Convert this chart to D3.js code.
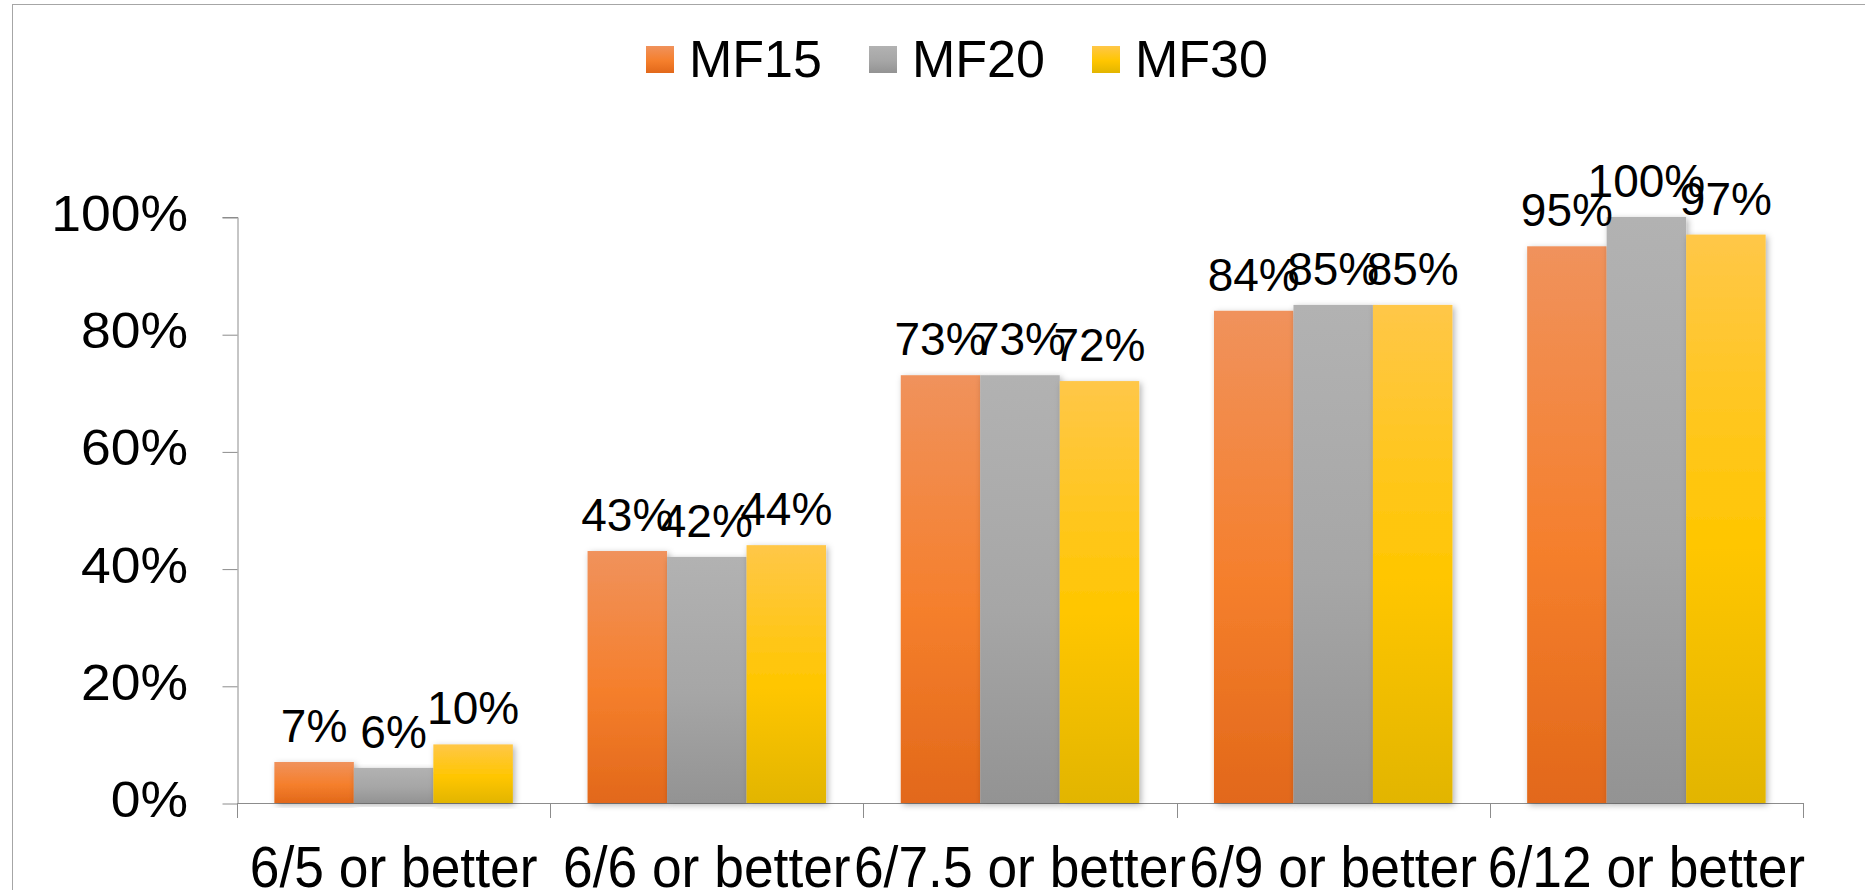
<!DOCTYPE html>
<html>
<head>
<meta charset="utf-8">
<script src="https://cdn.jsdelivr.net/npm/d3@7"></script>
<style>
  html, body { margin: 0; padding: 0; background: #fff; overflow: hidden; }
  svg { display: block; font-family: "Liberation Sans", Arial, sans-serif; }
</style>
</head>
<body>
<svg id="chart" width="1865" height="890"></svg>
<script>
// Visual acuity categories and percentage of eyes reaching each level
const categories = ["6/5 or better", "6/6 or better", "6/7.5 or better", "6/9 or better", "6/12 or better"];
const seriesNames = ["MF15", "MF20", "MF30"];
const mf15 = [7, 43, 73, 84, 95];
const mf20 = [6, 42, 73, 85, 100];
const mf30 = [10, 44, 72, 85, 97];
const yTicks = [0, 20, 40, 60, 80, 100];

const seriesValues = [mf15, mf20, mf30];

// Three-stop vertical gradients per series (light top, saturated middle, darker base)
const gradients = {
  MF15: ["#F0925C", "#F57F2C", "#E2681A"],
  MF20: ["#B2B2B2", "#A6A6A6", "#939393"],
  MF30: ["#FFC748", "#FFC600", "#E2B500"]
};

const svg = d3.select("#chart");
const W = 1865, H = 890;

svg.append("rect").attr("width", W).attr("height", H).attr("fill", "#fff");

const defs = svg.append("defs");
seriesNames.forEach(name => {
  const g = defs.append("linearGradient")
    .attr("id", "grad-" + name)
    .attr("x1", 0).attr("y1", 0).attr("x2", 0).attr("y2", 1);
  const c = gradients[name];
  g.append("stop").attr("offset", "0%").attr("stop-color", c[0]);
  g.append("stop").attr("offset", "55%").attr("stop-color", c[1]);
  g.append("stop").attr("offset", "100%").attr("stop-color", c[2]);
});
const shadow = defs.append("filter").attr("id", "barShadow")
  .attr("x", "-20%").attr("y", "-10%").attr("width", "140%").attr("height", "120%");
shadow.append("feDropShadow")
  .attr("dx", 2).attr("dy", 2).attr("stdDeviation", 3)
  .attr("flood-color", "#000").attr("flood-opacity", 0.3);

// Chart area frame
svg.append("rect")
  .attr("x", 12.5).attr("y", 4.5)
  .attr("width", 2000).attr("height", 1000)
  .attr("fill", "none").attr("stroke", "#A6A6A6").attr("stroke-width", 1);

const plot = { left: 237, right: 1803, top: 217, bottom: 803 };

const x0 = d3.scaleBand().domain(categories).range([plot.left, plot.right]).padding(0);
const x1 = d3.scaleBand().domain(seriesNames).range([0, x0.bandwidth()])
  .paddingInner(0).paddingOuter(0.47);
const y = d3.scaleLinear().domain([0, 100]).range([plot.bottom, plot.top]);

const axisColor = "#8C8C8C";

// Y axis
const yAxis = svg.append("g").attr("transform", `translate(${plot.left + 0.5},0)`)
  .call(d3.axisLeft(y).tickValues(yTicks).tickSize(15).tickFormat(""));
yAxis.select(".domain").attr("stroke", axisColor).attr("d", `M-15,${y(100) + 0.5}H0.5V${y(0) + 0.5}`);
yAxis.selectAll(".tick line").attr("stroke", axisColor).attr("transform", "translate(0,0.5)");

svg.append("g").selectAll("text.ylab")
  .data(yTicks).join("text")
  .attr("class", "ylab")
  .attr("transform", d => `translate(188,${y(d) + 14}) scale(1.07,1)`)
  .attr("text-anchor", "end")
  .attr("font-size", 50)
  .attr("fill", "#000")
  .text(d => d + "%");

// X axis with boundary ticks between categories
const boundaries = categories.map(c => x0(c)).concat([plot.right]);
const xAxisG = svg.append("g");
xAxisG.append("line")
  .attr("x1", plot.left).attr("x2", plot.right + 0.5)
  .attr("y1", plot.bottom + 0.5).attr("y2", plot.bottom + 0.5)
  .attr("stroke", axisColor);
xAxisG.selectAll("line.btick").data(boundaries).join("line")
  .attr("class", "btick")
  .attr("x1", d => Math.round(d) + 0.5).attr("x2", d => Math.round(d) + 0.5)
  .attr("y1", plot.bottom).attr("y2", plot.bottom + 15)
  .attr("stroke", axisColor);

svg.append("g").selectAll("text.xlab")
  .data(categories).join("text")
  .attr("class", "xlab")
  .attr("transform", d => `translate(${x0(d) + x0.bandwidth() / 2},887) scale(0.92,1)`)
  .attr("text-anchor", "middle")
  .attr("font-size", 58)
  .attr("fill", "#000")
  .text(d => d);

// Bars
const groups = svg.append("g").selectAll("g.cat")
  .data(categories).join("g")
  .attr("class", "cat")
  .attr("transform", d => `translate(${x0(d)},0)`);

const barData = (c, i) => seriesNames.map((s, k) => ({ series: s, value: seriesValues[k][i] }));

groups.each(function (c, i) {
  const g = d3.select(this);
  const data = barData(c, i);
  g.selectAll("rect.bar").data(data).join("rect")
    .attr("class", "bar")
    .attr("x", d => x1(d.series))
    .attr("y", d => y(d.value))
    .attr("width", x1.bandwidth())
    .attr("height", d => y(0) - y(d.value))
    .attr("fill", d => `url(#grad-${d.series})`)
    .attr("filter", "url(#barShadow)");
});

// Value labels above bars
groups.each(function (c, i) {
  const g = d3.select(this);
  const data = barData(c, i);
  g.selectAll("text.val").data(data).join("text")
    .attr("class", "val")
    .attr("x", d => x1(d.series) + x1.bandwidth() / 2)
    .attr("y", d => y(d.value) - 20)
    .attr("text-anchor", "middle")
    .attr("font-size", 46)
    .attr("fill", "#000")
    .text(d => d.value + "%");
});

// Legend
const legendItems = [
  { name: "MF15", x: 646 },
  { name: "MF20", x: 869 },
  { name: "MF30", x: 1092 }
];
const legend = svg.append("g").selectAll("g.leg").data(legendItems).join("g")
  .attr("class", "leg")
  .attr("transform", d => `translate(${d.x},0)`);
legend.append("rect")
  .attr("x", 0).attr("y", 46).attr("width", 28).attr("height", 27)
  .attr("fill", d => `url(#grad-${d.name})`);
legend.append("text")
  .attr("x", 43).attr("y", 77)
  .attr("font-size", 52)
  .attr("fill", "#000")
  .text(d => d.name);
</script>
</body>
</html>
